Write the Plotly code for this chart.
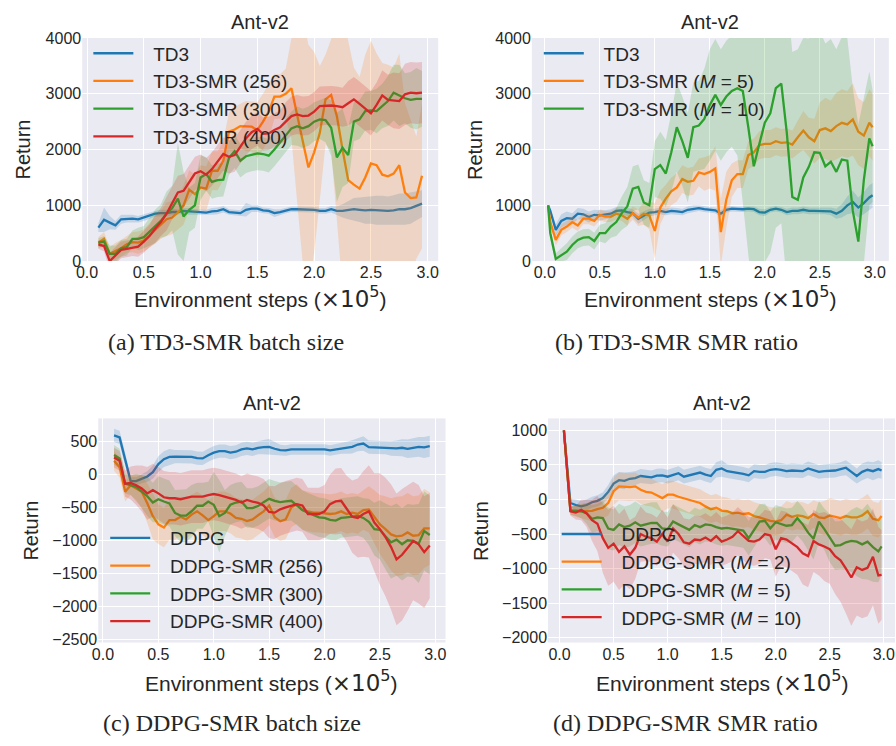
import plotly.graph_objects as go

# ---------------- evaluation grids (x in units of 1e5 environment steps) ----------------
steps_a = [round(0.1 + 0.05 * i, 2) for i in range(58)]
steps_b = [0.03] + [round(0.05 * i, 2) for i in range(1, 60)] + [2.98]
steps_c = [round(0.1 + 0.05 * i, 2) for i in range(58)]
steps_d = [0.04] + [round(0.05 * i, 2) for i in range(2, 60)] + [2.98]

# ---------------- (a) TD3-SMR batch size ----------------
td3_a = [600, 740, 690, 640, 750, 760, 760, 750, 780, 820,
         850, 860, 860, 880, 880, 900, 890, 880, 870, 870,
         890, 900, 930, 880, 870, 860, 920, 940, 940, 910,
         900, 860, 880, 910, 930, 930, 930, 930, 920, 900,
         900, 930, 900, 900, 910, 930, 920, 910, 920, 910,
         910, 900, 910, 930, 930, 950, 990, 1030]
td3_a_sd = [80, 220, 120, 80, 80, 70, 70, 60, 60, 60,
            50, 60, 60, 60, 50, 50, 60, 50, 50, 50,
            60, 60, 60, 50, 50, 50, 120, 60, 60, 50,
            50, 70, 50, 50, 50, 50, 50, 50, 50, 50,
            50, 60, 80, 120, 160, 200, 220, 240, 250, 260,
            260, 260, 270, 280, 280, 280, 260, 240]
smr256_a = [330, 400, 130, 180, 230, 300, 340, 330, 370, 460,
            560, 650, 750, 780, 870, 1000, 1280, 1200, 1320, 1300,
            1620, 1620, 1800, 2320, 2360, 2420, 2420, 2410, 2350, 2500,
            2680, 2950, 2950, 3000, 3100, 2600, 2150, 1680, 1950, 2300,
            2900, 2980, 2600, 2000, 1450, 1370, 1300, 1500, 1750, 1720,
            1550, 1520, 1570, 1720, 1230, 1130, 1140, 1530]
smr256_a_sd = [100, 120, 120, 150, 150, 150, 180, 200, 200, 220,
               250, 250, 300, 300, 300, 350, 350, 350, 400, 400,
               350, 350, 350, 350, 400, 400, 450, 450, 500, 500,
               500, 400, 400, 450, 900, 1500, 2200, 2200, 1800, 1200,
               800, 1000, 2000, 2500, 2500, 2100, 2000, 2200, 2200, 2000,
               2000, 2000, 1900, 2000, 1600, 1400, 1100, 1300]
smr300_a = [330, 350, 130, 130, 230, 250, 400, 400, 430, 530,
            620, 720, 850, 950, 1120, 800, 920, 1000, 1500, 1560,
            1420, 1450, 1460, 1850, 1970, 1800, 1880, 1910, 1930, 1920,
            1890, 2000, 2120, 2250, 2380, 2420, 2380, 2420, 2500, 2540,
            2530, 2390, 1860, 2030, 1900, 2500, 2540, 2690, 2700, 2690,
            2780, 2870, 3020, 2970, 2920, 2890, 2910, 2910]
smr300_a_sd = [80, 100, 150, 150, 150, 150, 150, 200, 200, 250,
               300, 300, 400, 400, 1000, 800, 400, 400, 400, 300,
               300, 300, 300, 300, 300, 300, 300, 300, 300, 300,
               300, 300, 300, 300, 300, 350, 350, 350, 350, 350,
               400, 500, 800, 700, 500, 350, 350, 350, 350, 400,
               400, 450, 500, 550, 450, 500, 550, 500]
smr400_a = [300, 270, 0, 100, 200, 220, 240, 260, 350, 450,
            580, 700, 850, 1050, 1230, 1260, 1420, 1570, 1610, 1550,
            1650, 1780, 1920, 1870, 1900, 2050, 2200, 2310, 2370, 2280,
            2290, 2350, 2400, 2500, 2600, 2630, 2600, 2610, 2680, 2780,
            2790, 2790, 2780, 2760, 2830, 2900, 2820, 2730, 2650, 2800,
            2970, 2890, 2880, 2870, 2990, 3020, 3010, 3020]
smr400_a_sd = [80, 100, 150, 150, 150, 150, 150, 180, 200, 200,
               250, 250, 300, 300, 300, 300, 300, 300, 300, 300,
               300, 300, 300, 300, 300, 300, 300, 300, 300, 300,
               300, 300, 300, 350, 350, 350, 350, 350, 350, 350,
               350, 350, 350, 350, 400, 400, 400, 400, 400, 400,
               450, 450, 500, 500, 550, 550, 550, 550]

# ---------------- (b) TD3-SMR SMR ratio ----------------
td3_b = [1000, 900,
         560, 720, 770, 760, 850, 840, 790, 830, 820, 830,
         850, 900, 910, 880, 860, 760, 820, 870, 880, 900,
         880, 900, 890, 880, 920, 940, 950, 930, 920, 910,
         850, 920, 940, 930, 930, 940, 930, 880, 870, 920,
         940, 920, 880, 900, 900, 920, 900, 900, 900, 900,
         890, 850, 900, 1000, 1060, 960, 1040, 1140,
         1180]
td3_b_sd = [0, 50,
            100, 120, 120, 100, 100, 100, 100, 90, 90, 80,
            80, 70, 70, 70, 70, 90, 80, 70, 60, 60,
            60, 60, 60, 60, 60, 60, 50, 50, 50, 50,
            60, 50, 50, 50, 50, 50, 50, 60, 60, 50,
            50, 50, 60, 60, 60, 60, 60, 60, 60, 60,
            70, 90, 120, 160, 200, 180, 200, 220,
            220]
smr_m5_b = [1000, 700,
            380, 560, 620, 700, 640, 760, 760, 720, 830, 800,
            800, 850, 820, 760, 860, 780, 850, 820, 540, 960,
            1120, 1250, 1320, 1470, 1420, 1440, 1590, 1560, 1600, 1660,
            520, 1100, 1450, 1560, 1560, 1900, 1950, 2080, 2100, 2100,
            2150, 2120, 2130, 2090, 2220, 2340, 2220, 2150, 2350, 2380,
            2330, 2420, 2480, 2450, 2540, 2320, 2250, 2480,
            2400]
smr_m5_b_sd = [0, 80,
               100, 100, 100, 100, 100, 100, 100, 100, 100, 100,
               100, 100, 100, 120, 120, 150, 200, 250, 500, 300,
               250, 250, 250, 250, 250, 250, 250, 300, 300, 400,
               600, 500, 300, 250, 250, 250, 250, 250, 250, 250,
               250, 250, 250, 250, 300, 350, 350, 400, 500, 550,
               550, 600, 600, 600, 650, 600, 600, 600,
               600]
smr_m10_b = [1000, 500,
             40, 110, 170, 290, 380, 420, 430, 360, 500, 500,
             620, 700, 860, 980, 1300, 1330, 1050, 1000, 1650, 1720,
             1570, 1950, 2400, 2150, 1850, 2400, 2430, 2550, 2800, 2980,
             2800, 2950, 3050, 3100, 3050, 2400, 1700, 2100, 2480, 2650,
             3100, 3180, 2300, 1150, 1100, 1500, 1690, 1950, 1940, 1700,
             1780, 1600, 1820, 1800, 900, 350, 1450, 2200,
             2060]
smr_m10_b_sd = [0, 100,
                100, 120, 150, 150, 150, 150, 150, 150, 150, 180,
                200, 250, 300, 350, 400, 400, 400, 400, 500, 600,
                600, 700, 800, 800, 800, 800, 800, 900, 1000, 1000,
                1000, 1000, 1000, 1200, 2000, 2500, 2500, 2500, 2500, 2500,
                2500, 2500, 2500, 2600, 2700, 2500, 2300, 2200, 2200, 2200,
                2200, 2200, 2200, 2200, 2200, 2100, 1500, 1200,
                1000]

# ---------------- (c) DDPG-SMR batch size ----------------
ddpg_c = [594, 564, 230, -99, -100, -65, -30, 35, 158, 233,
          267, 272, 272, 268, 268, 248, 245, 292, 332, 356,
          356, 332, 346, 381, 396, 381, 406, 416, 420, 391,
          371, 366, 381, 381, 381, 381, 381, 391, 381, 366,
          381, 396, 406, 420, 455, 470, 416, 411, 406, 406,
          396, 396, 406, 391, 406, 420, 411, 430]
ddpg_c_sd = [100, 100, 100, 60, 60, 70, 80, 100, 120, 120,
             120, 100, 100, 100, 100, 100, 100, 100, 100, 100,
             100, 100, 100, 100, 100, 100, 100, 110, 120, 100,
             80, 80, 80, 80, 80, 80, 80, 80, 80, 80,
             80, 80, 90, 100, 100, 110, 100, 100, 100, 100,
             110, 120, 130, 140, 150, 150, 160, 160]
smr256_c = [208, 109, -262, -163, -213, -262, -436, -634, -757, -807,
            -693, -693, -643, -683, -609, -559, -620, -693, -634, -559,
            -559, -594, -658, -673, -708, -683, -620, -560, -470, -650,
            -710, -680, -500, -450, -540, -560, -580, -580, -590, -600,
            -590, -560, -600, -580, -600, -540, -530, -640, -760, -830,
            -910, -940, -930, -880, -930, -920, -820, -820]
smr256_c_sd = [150, 150, 150, 150, 200, 250, 300, 350, 300, 300,
               300, 300, 300, 300, 300, 300, 300, 300, 300, 300,
               300, 300, 300, 300, 300, 300, 300, 300, 300, 300,
               300, 300, 300, 300, 300, 300, 300, 300, 300, 300,
               300, 300, 300, 300, 300, 300, 350, 400, 450, 500,
               550, 600, 600, 600, 600, 600, 600, 550]
smr300_c = [297, 243, -139, -163, -190, -262, -330, -426, -376, -411,
            -440, -584, -624, -624, -559, -475, -475, -411, -460, -634,
            -584, -460, -426, -411, -510, -510, -480, -420, -370, -400,
            -420, -410, -400, -470, -540, -580, -620, -650, -660, -690,
            -700, -660, -650, -640, -630, -660, -720, -830, -840, -940,
            -1030, -990, -1060, -1000, -1010, -1050, -860, -920]
smr300_c_sd = [150, 150, 150, 150, 200, 250, 300, 300, 350, 350,
               350, 350, 400, 400, 400, 350, 350, 300, 500, 550,
               350, 300, 300, 300, 300, 300, 300, 300, 300, 300,
               300, 300, 300, 300, 300, 300, 300, 300, 300, 300,
               300, 300, 300, 300, 300, 300, 350, 400, 450, 500,
               550, 550, 550, 550, 550, 600, 600, 600]
smr400_c = [257, 208, -139, -129, -163, -213, -287, -238, -287, -346,
            -361, -361, -376, -361, -337, -337, -337, -312, -297, -312,
            -337, -361, -386, -426, -386, -411, -430, -470, -570, -580,
            -530, -500, -470, -450, -470, -600, -600, -600, -560, -450,
            -410, -400, -520, -640, -660, -600, -560, -730, -830, -950,
            -1100, -1290, -1220, -1120, -1010, -1060, -1180, -1080]
smr400_c_sd = [150, 150, 200, 250, 300, 350, 400, 400, 400, 400,
               400, 400, 400, 400, 400, 400, 400, 400, 400, 400,
               400, 400, 400, 400, 400, 400, 400, 400, 400, 400,
               400, 400, 400, 400, 400, 400, 400, 400, 400, 450,
               500, 500, 500, 550, 600, 650, 700, 750, 850, 900,
               950, 1000, 1000, 950, 900, 900, 850, 800]

# ---------------- (d) DDPG-SMR SMR ratio ----------------
ddpg_d = [1000,
          -50, -80, -100, -80, -40, -20, 20, 110, 230, 280,
          270, 300, 310, 340, 330, 320, 345, 350, 330, 350,
          380, 330, 350, 360, 390, 360, 340, 430, 450, 410,
          400, 390, 370, 350, 410, 400, 400, 430, 440, 430,
          410, 420, 410, 410, 450, 420, 400, 410, 410, 420,
          440, 460, 400, 340, 400, 430, 410, 440,
          420]
ddpg_d_sd = [0,
             60, 80, 80, 80, 80, 80, 80, 100, 120, 120,
             120, 100, 100, 100, 100, 100, 100, 100, 100, 100,
             100, 100, 100, 100, 100, 100, 100, 110, 120, 100,
             100, 100, 100, 100, 100, 100, 100, 100, 100, 100,
             100, 100, 100, 100, 100, 100, 100, 100, 100, 100,
             100, 110, 110, 110, 120, 120, 130, 130,
             120]
smr_m2_d = [1000,
            -160, -170, -170, -170, -165, -140, -120, -50, 120, 190,
            180, 180, 190, 140, 110, 100, 60, 20, 70, 70,
            40, 20, 0, -30, -50, -100, -140, -120, -160, -170,
            -200, -190, -210, -200, -240, -260, -290, -310, -320, -300,
            -220, -250, -230, -240, -270, -210, -260, -270, -230, -250,
            -270, -240, -260, -260, -230, -170, -280, -300,
            -240]
smr_m2_d_sd = [0,
               60, 80, 100, 120, 150, 150, 150, 180, 200, 200,
               200, 200, 200, 200, 200, 200, 200, 200, 200, 200,
               200, 200, 200, 200, 200, 200, 200, 200, 200, 200,
               200, 200, 200, 200, 200, 200, 200, 200, 200, 200,
               200, 200, 200, 200, 200, 200, 220, 250, 250, 250,
               250, 250, 250, 250, 250, 250, 250, 250,
               250]
smr_m5_d = [1000,
            -160, -160, -170, -200, -280, -260, -270, -420, -440, -360,
            -400, -380, -330, -380, -360, -340, -340, -420, -430, -320,
            -360, -400, -440, -370, -400, -360, -370, -400, -420, -410,
            -420, -440, -450, -560, -440, -320, -310, -420, -330, -360,
            -380, -370, -270, -360, -480, -570, -320, -430, -560, -670,
            -660, -620, -600, -610, -650, -610, -690, -750,
            -680]
smr_m5_d_sd = [0,
               60, 80, 100, 150, 200, 200, 250, 300, 300, 300,
               300, 300, 300, 300, 300, 300, 300, 250, 250, 250,
               250, 250, 250, 250, 250, 250, 250, 250, 250, 250,
               250, 250, 250, 250, 250, 250, 250, 250, 250, 250,
               250, 250, 250, 250, 250, 300, 300, 300, 350, 350,
               350, 400, 450, 500, 500, 550, 500, 450,
               400]
smr_m10_d = [1000,
             -170, -190, -150, -200, -300, -350, -560, -700, -640, -760,
             -680, -800, -700, -500, -540, -560, -610, -500, -610, -420,
             -500, -620, -640, -580, -590, -550, -600, -530, -610, -580,
             -540, -460, -530, -600, -610, -580, -500, -520, -720, -560,
             -580, -640, -690, -780, -820, -600, -650, -680, -720, -820,
             -880, -1000, -1130, -980, -1020, -990, -830, -1100,
             -1090]
smr_m10_d_sd = [0,
                60, 100, 150, 200, 300, 400, 500, 550, 550, 550,
                550, 500, 450, 400, 350, 350, 350, 350, 350, 350,
                350, 350, 350, 350, 350, 350, 350, 350, 350, 350,
                350, 350, 350, 350, 350, 350, 350, 350, 400, 400,
                400, 400, 400, 450, 450, 450, 450, 500, 500, 550,
                600, 650, 700, 700, 700, 700, 700, 700,
                650]

# ---------------- styling ----------------
W, H = 896, 746
SANS = "Liberation Sans, Arial, sans-serif"
SERIF = "Liberation Serif, Times New Roman, serif"
INK = "#262626"
BLUE, ORANGE, GREEN, RED = "#1f77b4", "#ff7f0e", "#2ca02c", "#d62728"
GAP = "\u2002\u00a0"  # spacing between legend handle and label


def rgba(hex_color, alpha):
    h = hex_color.lstrip("#")
    r, g, b = int(h[0:2], 16), int(h[2:4], 16), int(h[4:6], 16)
    return f"rgba({r},{g},{b},{alpha})"


def px_x(p):
    return p / W


def px_y(p):
    return 1 - p / H


fig = go.Figure()


def add_run(x, mean, spread, color, name, axes, legend):
    assert len(x) == len(mean) == len(spread), name
    xa, ya = axes
    upper = [m + s for m, s in zip(mean, spread)]
    lower = [m - s for m, s in zip(mean, spread)]
    fig.add_trace(go.Scatter(x=x, y=upper, mode="lines", line=dict(width=0),
                             hoverinfo="skip", showlegend=False, xaxis=xa, yaxis=ya))
    fig.add_trace(go.Scatter(x=x, y=lower, mode="lines", line=dict(width=0),
                             fill="tonexty", fillcolor=rgba(color, 0.2),
                             hoverinfo="skip", showlegend=False, xaxis=xa, yaxis=ya))
    fig.add_trace(go.Scatter(x=x, y=mean, mode="lines", name=GAP + name,
                             line=dict(color=color, width=2.3),
                             legend=legend, xaxis=xa, yaxis=ya))


add_run(steps_a, td3_a, td3_a_sd, BLUE, "TD3", ("x", "y"), "legend")
add_run(steps_a, smr256_a, smr256_a_sd, ORANGE, "TD3-SMR (256)", ("x", "y"), "legend")
add_run(steps_a, smr300_a, smr300_a_sd, GREEN, "TD3-SMR (300)", ("x", "y"), "legend")
add_run(steps_a, smr400_a, smr400_a_sd, RED, "TD3-SMR (400)", ("x", "y"), "legend")

add_run(steps_b, td3_b, td3_b_sd, BLUE, "TD3", ("x2", "y2"), "legend2")
add_run(steps_b, smr_m5_b, smr_m5_b_sd, ORANGE, "TD3-SMR (<i>M</i> = 5)", ("x2", "y2"), "legend2")
add_run(steps_b, smr_m10_b, smr_m10_b_sd, GREEN, "TD3-SMR (<i>M</i> = 10)", ("x2", "y2"), "legend2")

add_run(steps_c, ddpg_c, ddpg_c_sd, BLUE, "DDPG", ("x3", "y3"), "legend3")
add_run(steps_c, smr256_c, smr256_c_sd, ORANGE, "DDPG-SMR (256)", ("x3", "y3"), "legend3")
add_run(steps_c, smr300_c, smr300_c_sd, GREEN, "DDPG-SMR (300)", ("x3", "y3"), "legend3")
add_run(steps_c, smr400_c, smr400_c_sd, RED, "DDPG-SMR (400)", ("x3", "y3"), "legend3")

add_run(steps_d, ddpg_d, ddpg_d_sd, BLUE, "DDPG", ("x4", "y4"), "legend4")
add_run(steps_d, smr_m2_d, smr_m2_d_sd, ORANGE, "DDPG-SMR (<i>M</i> = 2)", ("x4", "y4"), "legend4")
add_run(steps_d, smr_m5_d, smr_m5_d_sd, GREEN, "DDPG-SMR (<i>M</i> = 5)", ("x4", "y4"), "legend4")
add_run(steps_d, smr_m10_d, smr_m10_d_sd, RED, "DDPG-SMR (<i>M</i> = 10)", ("x4", "y4"), "legend4")

x_ticks = [0, 0.5, 1.0, 1.5, 2.0, 2.5, 3.0]
tick_font = dict(family=SANS, size=16, color=INK)


def x_axis(left, right, rng, anchor):
    return dict(domain=[px_x(left), px_x(right)], range=rng, anchor=anchor,
                tickvals=x_ticks, tickformat=".1f", showgrid=True, gridcolor="white",
                gridwidth=1.3, zeroline=False, showline=False, ticks="",
                tickfont=tick_font, fixedrange=True)


def y_axis(top, bottom, rng, ticks, anchor):
    return dict(domain=[px_y(bottom), px_y(top)], range=rng, anchor=anchor,
                tickvals=ticks, tickformat="d", showgrid=True, gridcolor="white",
                gridwidth=1.3, zeroline=False, showline=False, ticks="",
                tickfont=tick_font, fixedrange=True)


def legend_box(left, top):
    return dict(x=px_x(left), y=px_y(top), xanchor="left", yanchor="top",
                bgcolor="rgba(0,0,0,0)", borderwidth=0, tracegroupgap=0,
                traceorder="normal",
                font=dict(family=SANS, size=19, color=INK), itemwidth=40)


ann = []


def label(text, x, y, size=20, family=SANS, angle=0):
    ann.append(dict(text=text, x=px_x(x), y=px_y(y), xref="paper", yref="paper",
                    showarrow=False, xanchor="center", yanchor="middle",
                    textangle=angle, font=dict(family=family, size=size, color=INK)))


xlab = ("Environment steps (<span style='font-family:DejaVu Sans;font-size:23px'>×10"
        "<sup>5</sup></span>)")
for cx, cy in [(256, 14), (710, 14), (268, 404), (722, 404)]:
    label("Ant-v2", cx, cy)
for cx, cy in [(256, 296), (710, 296), (268, 689), (722, 689)]:
    label(xlab, cx, cy, size=21)
for cx, cy in [(17, 145), (472, 145), (25, 535), (479, 535)]:
    label("Return", cx, cy, angle=-90)
label("(a) TD3-SMR batch size", 222, 342, size=24, family=SERIF)
label("(b) TD3-SMR SMR ratio", 676, 342, size=24, family=SERIF)
label("(c) DDPG-SMR batch size", 228, 732, size=24, family=SERIF)
label("(d) DDPG-SMR SMR ratio", 685, 732, size=24, family=SERIF)

fig.update_layout(
    width=W, height=H, margin=dict(l=0, r=0, t=0, b=0),
    paper_bgcolor="white", plot_bgcolor="#eaeaf2",
    font=dict(family=SANS, color=INK),
    xaxis=x_axis(76.8, 435.6, [-0.0425, 3.0925], "y"),
    yaxis=y_axis(30.7, 259, [0, 4000], [0, 1000, 2000, 3000, 4000], "x"),
    xaxis2=x_axis(530, 889.8, [-0.1175, 3.1275], "y2"),
    yaxis2=y_axis(30.7, 259, [0, 4000], [0, 1000, 2000, 3000, 4000], "x2"),
    xaxis3=x_axis(93, 443, [-0.0425, 3.0925], "y3"),
    yaxis3=y_axis(420, 649.3, [-2553, 852], [500, 0, -500, -1000, -1500, -2000, -2500], "x3"),
    xaxis4=x_axis(546.3, 896, [-0.107, 3.104], "y4"),
    yaxis4=y_axis(420, 649.3, [-2071, 1174], [1000, 500, 0, -500, -1000, -1500, -2000], "x4"),
    legend=legend_box(83, 27),
    legend2=legend_box(537, 27),
    legend3=legend_box(100, 523),
    legend4=legend_box(555, 519),
    annotations=ann,
    showlegend=True,
)

fig.write_html("out.html")
